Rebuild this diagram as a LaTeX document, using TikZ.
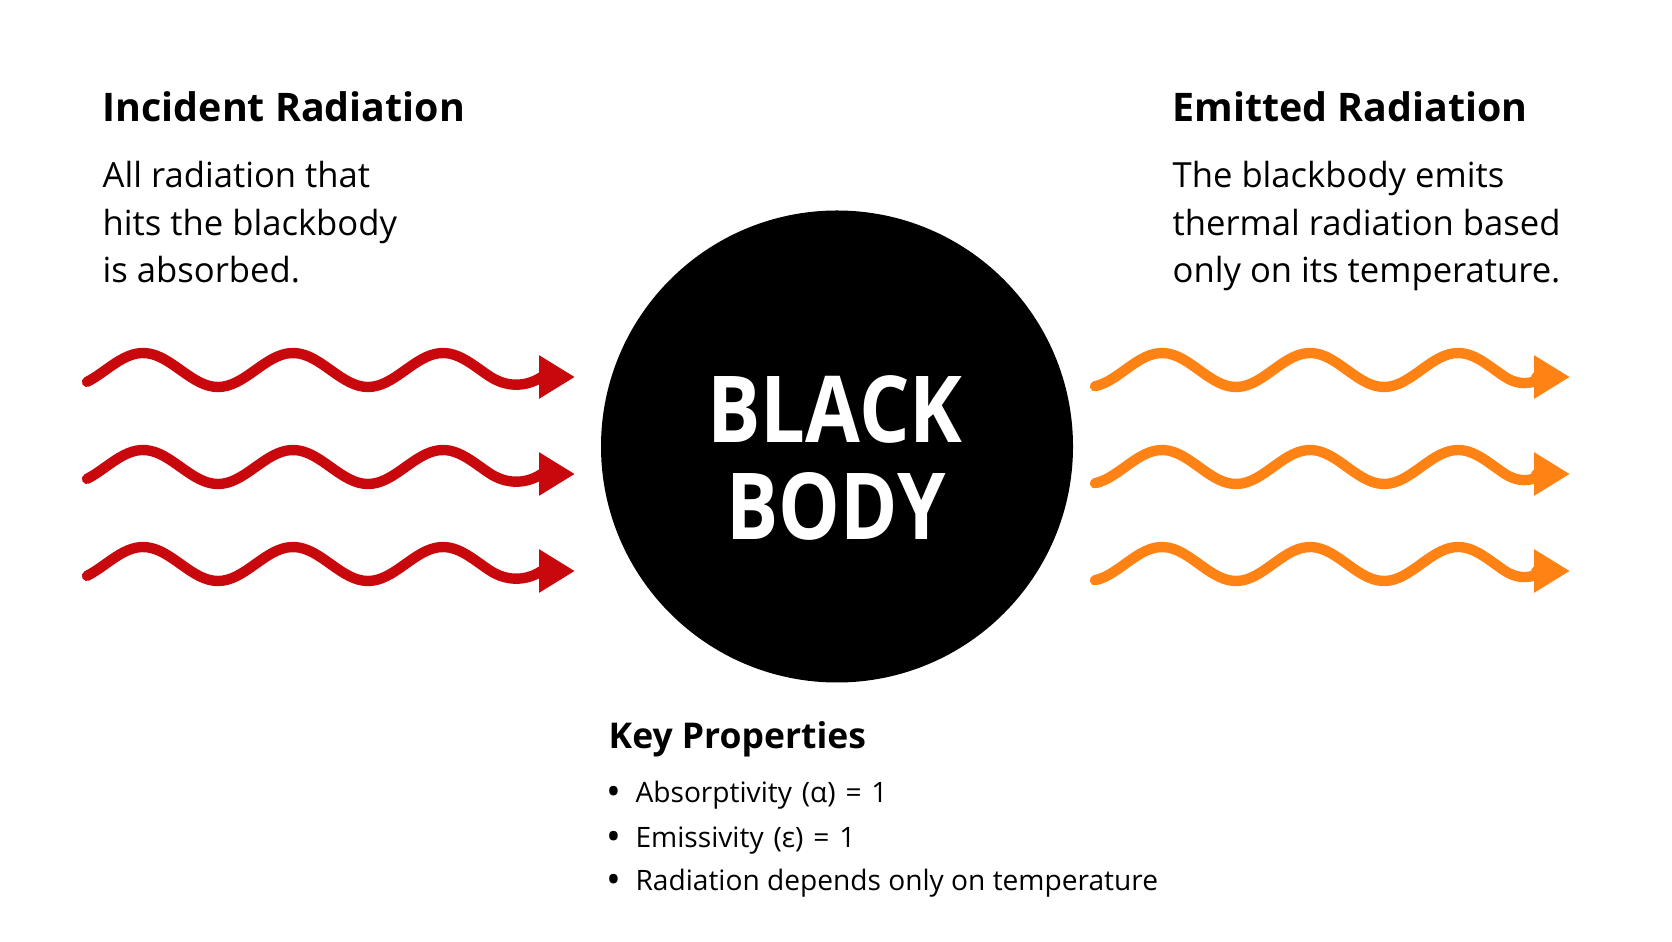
\documentclass[tikz,border=0pt]{standalone}
\usepackage{fontspec}
\setmainfont{Open Sans}
\usetikzlibrary{arrows.meta,positioning}
\definecolor{incidentred}{RGB}{200,8,12}
\definecolor{emittedorange}{RGB}{255,130,20}
\newcommand{\keybullet}{\raisebox{-0.9pt}{\scalebox{1.4}{•}}\hspace{4pt}}
\tikzset{
  heading/.style={anchor=base west, inner sep=0pt, font=\bfseries\fontsize{11.2}{13}\selectfont},
  bodytext/.style={anchor=base west, inner sep=0pt, font=\fontsize{9.85}{13.5}\selectfont},
  keyhead/.style={anchor=base west, inner sep=0pt, font=\bfseries\fontsize{10.1}{12}\selectfont},
  keyitem/.style={anchor=base west, inner sep=0pt, font=\fontsize{8.0}{12}\selectfont},
  bodyname/.style={anchor=base, inner sep=0pt, text=white, font=\bfseries\fontsize{26.3}{28}\selectfont},
  wave/.style={line width=2.95pt, line cap=round, line join=round, -{Triangle[length=3.6mm,width=4.1mm]}}
}
\begin{document}
\begin{tikzpicture}
\useasboundingbox (0,0) rectangle (16.72,9.41);
\node[circle, fill=black, minimum size=4.72cm, inner sep=0pt] (body) at (8.37,4.945) {};
\node[bodyname] (blackword) at (8.35,4.98) {\scalebox{0.86}[1]{BLACK}};
\node[bodyname] (bodyword) at (8.36,4.01) {\scalebox{0.84}[1]{BODY}};

\node[heading] (incident) at (1.02,8.19) {Incident Radiation};
\node[bodytext] (inc1) at (1.02,7.53) {All radiation that};
\node[bodytext] (inc2) at (1.02,7.05) {hits the blackbody};
\node[bodytext] (inc3) at (1.02,6.58) {is absorbed.};

\node[heading] (emitted) at (11.72,8.19) {Emitted Radiation};
\node[bodytext] (emi1) at (11.72,7.53) {The blackbody emits};
\node[bodytext] (emi2) at (11.72,7.05) {thermal radiation based};
\node[bodytext] (emi3) at (11.72,6.58) {only on its temperature.};

\coordinate (intip1) at (5.75,5.64);
\coordinate (intip2) at (5.75,4.67);
\coordinate (intip3) at (5.75,3.70);
\coordinate (outtip1) at (15.70,5.64);
\coordinate (outtip2) at (15.70,4.67);
\coordinate (outtip3) at (15.70,3.70);

\draw[wave, incidentred, domain=0.87:4.90, samples=90] plot (\x,{5.71+0.17*cos((\x-1.43)*240)}) to[out=-33,in=180] (intip1);
\draw[wave, incidentred, domain=0.87:4.90, samples=90] plot (\x,{4.74+0.17*cos((\x-1.43)*240)}) to[out=-33,in=180] (intip2);
\draw[wave, incidentred, domain=0.87:4.90, samples=90] plot (\x,{3.77+0.17*cos((\x-1.43)*240)}) to[out=-33,in=180] (intip3);
\draw[wave, emittedorange, domain=10.95:15.05, samples=90] plot (\x,{5.71+0.17*cos((\x-11.62)*243.2)}) to[out=-33,in=180] (outtip1);
\draw[wave, emittedorange, domain=10.95:15.05, samples=90] plot (\x,{4.74+0.17*cos((\x-11.62)*243.2)}) to[out=-33,in=180] (outtip2);
\draw[wave, emittedorange, domain=10.95:15.05, samples=90] plot (\x,{3.77+0.17*cos((\x-11.62)*243.2)}) to[out=-33,in=180] (outtip3);

\node[keyhead] (keyprops) at (6.08,1.93) {Key Properties};
\node[keyitem] (absorb) at (6.06,1.39) {\keybullet Absorptivity\hspace{2.8pt}(α)\hspace{2.8pt}=\hspace{2.8pt}1};
\node[keyitem] (emiss) at (6.06,0.94) {\keybullet Emissivity\hspace{2.8pt}(ε)\hspace{2.8pt}=\hspace{2.8pt}1};
\node[keyitem] (tempdep) at (6.06,0.51) {\keybullet Radiation depends only on temperature};
\end{tikzpicture}
\end{document}
